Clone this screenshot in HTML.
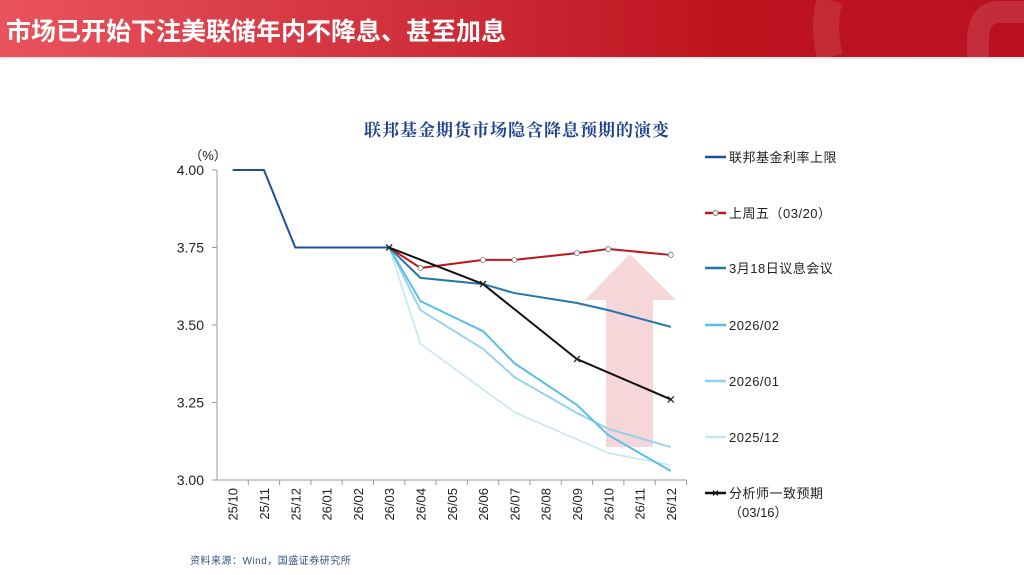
<!DOCTYPE html>
<html><head><meta charset="utf-8"><style>
body{margin:0;width:1024px;height:575px;background:#fff;overflow:hidden;font-family:"Liberation Sans","Noto Sans CJK SC",sans-serif}
#hdr{position:absolute;left:0;top:0;width:1024px;height:57px;background:linear-gradient(90deg,#e9535d 0%,#d0303b 40%,#be1420 70%,#bb1020 100%);overflow:hidden}
#hdr .t{position:absolute;left:6px;top:12px;color:#fff;font-size:25px;font-weight:bold;font-family:"Noto Sans CJK SC",sans-serif;letter-spacing:0px}
</style></head><body>
<div id="hdr">
<svg width="1024" height="57" style="position:absolute;left:0;top:0"><path d="M830 57 Q822 25 830 0" fill="none" stroke="rgba(255,255,255,0.10)" stroke-width="26"/><path d="M1024 12 L1000 12 Q978 12 978 40 L978 57" fill="none" stroke="rgba(255,255,255,0.12)" stroke-width="22"/></svg>
<div class="t">市场已开始下注美联储年内不降息、甚至加息</div>
</div>
<div style="position:absolute;left:0;top:57px;width:1024px;height:2px;background:#e8e8e8"></div>
<svg id="chart" width="1024" height="575" style="position:absolute;left:0;top:0"></svg>
<script>
const categories=["25/10","25/11","25/12","26/01","26/02","26/03","26/04","26/05","26/06","26/07","26/08","26/09","26/10","26/11","26/12"];
const yTicks=[4.00,3.75,3.50,3.25,3.00];
const fedCap=[4.00,4.00,3.75,3.75,3.75,3.75,null,null,null,null,null,null,null,null,null];
const lastFri=[null,null,null,null,null,3.75,3.684,null,3.71,3.71,null,3.732,3.745,null,3.726];
const mar18=[null,null,null,null,null,3.75,3.652,null,3.632,3.603,null,3.571,3.548,null,3.494];
const feb26=[null,null,null,null,null,3.75,3.577,null,3.48,3.377,null,3.242,3.145,null,3.029];
const jan26=[null,null,null,null,null,3.75,3.548,null,3.423,3.332,null,3.216,3.165,null,3.106];
const dec25=[null,null,null,null,null,3.75,3.439,null,null,3.219,null,null,3.087,null,3.048];
const analyst=[null,null,null,null,null,3.75,null,null,3.632,null,null,3.39,null,null,3.26];
const legendLabels=["联邦基金利率上限","上周五（03/20）","3月18日议息会议","2026/02","2026/01","2025/12","分析师一致预期"];

const svg=document.getElementById('chart');
const NS='http://www.w3.org/2000/svg';
const X0=217,STEP=31.3,YTOP=170,YBOT=480,YMAX=4,YMIN=3;
const xs=i=>X0+STEP*(i+0.5);
const ys=v=>YBOT-(v-YMIN)/(YMAX-YMIN)*(YBOT-YTOP);
function el(tag,attrs,name,parent){const e=document.createElementNS(NS,tag);for(const k in attrs)e.setAttribute(k,attrs[k]);


(parent||svg).appendChild(e);return e;}
function txt(x,y,s,name,attrs){const t=el('text',Object.assign({x:x,y:y},attrs||{}),name);t.textContent=s;return t;}

txt(517,136,"联邦基金期货市场隐含降息预期的演变","chart-title",{'text-anchor':'middle','font-size':17,'font-weight':'bold',fill:'#1f3f8f','font-family':'"Noto Serif CJK SC",serif','letter-spacing':'1'});
txt(208,160,"（%）","y-axis-unit",{'text-anchor':'middle','font-size':13,fill:'#222'});
el('line',{x1:X0,y1:YTOP,x2:X0,y2:YBOT,stroke:'#999','stroke-width':1},'y-axis-line');
el('line',{x1:X0,y1:YBOT,x2:X0+STEP*categories.length,y2:YBOT,stroke:'#999','stroke-width':1},'x-axis-line');
yTicks.forEach(v=>{el('line',{x1:X0-5,y1:ys(v),x2:X0,y2:ys(v),stroke:'#999'},'y-tick');
txt(X0-13,ys(v)+5,v.toFixed(2),'y-tick-label',{'text-anchor':'end','font-size':14,fill:'#222'});});
categories.forEach((c,i)=>{el('line',{x1:X0+STEP*(i+1),y1:YBOT,x2:X0+STEP*(i+1),y2:YBOT+5,stroke:'#999'},'x-tick');
txt(0,0,c,'x-tick-label',{'font-size':13,fill:'#222','text-anchor':'end',transform:`translate(${xs(i)+5},${YBOT+8}) rotate(-90)`});});
el('path',{d:'M606 447 L653 447 L653 300 L676 300 L630 254 L585 300 L606 300 Z',fill:'#f3c9cc',opacity:0.75},'upward-arrow');
function series(arr,color,w,name,marker){const pts=[];arr.forEach((v,i)=>{if(v!==null)pts.push([xs(i),ys(v)]);});
el('polyline',{points:pts.map(p=>p.join(',')).join(' '),fill:'none',stroke:color,'stroke-width':w,'stroke-linejoin':'round'},name+'-line');
if(marker==='o')pts.slice(1).forEach(p=>el('circle',{cx:p[0],cy:p[1],r:2.5,fill:'#fff',stroke:'#777','stroke-width':0.8},name+'-point'));
if(marker==='x')pts.forEach(p=>el('path',{d:`M${p[0]-3} ${p[1]-3}L${p[0]+3} ${p[1]+3}M${p[0]+3} ${p[1]-3}L${p[0]-3} ${p[1]+3}`,stroke:'#222','stroke-width':1.3},name+'-point'));}
series(dec25,'#c6e6f6',1.6,'series-2025-12');
series(jan26,'#8fd0ef',1.8,'series-2026-01');
series(feb26,'#5cbde8',2,'series-2026-02');
series(mar18,'#2277a8',2,'series-mar18');
series(fedCap,'#1f4e9c',2,'series-fed-cap');
series(lastFri,'#c0141c',2,'series-last-friday','o');
series(analyst,'#111',2,'series-analyst','x');
const lColors=['#1f4e9c','#c0141c','#2277a8','#5cbde8','#8fd0ef','#c6e6f6','#111'];
const lY=[157,213,268,325,381,437,493];
legendLabels.forEach((s,i)=>{el('line',{x1:705,y1:lY[i],x2:726,y2:lY[i],stroke:lColors[i],'stroke-width':2.5},'legend-swatch');
if(i===1)el('circle',{cx:715.5,cy:lY[i],r:2.5,fill:'#fff',stroke:'#777'},'legend-marker');
if(i===6)el('path',{d:`M713 ${lY[i]-2.5}L718 ${lY[i]+2.5}M718 ${lY[i]-2.5}L713 ${lY[i]+2.5}`,stroke:'#111','stroke-width':1.2},'legend-marker');
txt(729,lY[i]+5,s,'legend-entry',{'font-size':13,fill:'#222','letter-spacing':'0.5'});});
txt(729,517,"（03/16）",'legend-entry-2',{'font-size':13,fill:'#222'});
txt(190,564,"资料来源：Wind，国盛证券研究所",'source-note',{'font-size':10,fill:'#3a4f8a','letter-spacing':'0.5'});
</script>
</body></html>
